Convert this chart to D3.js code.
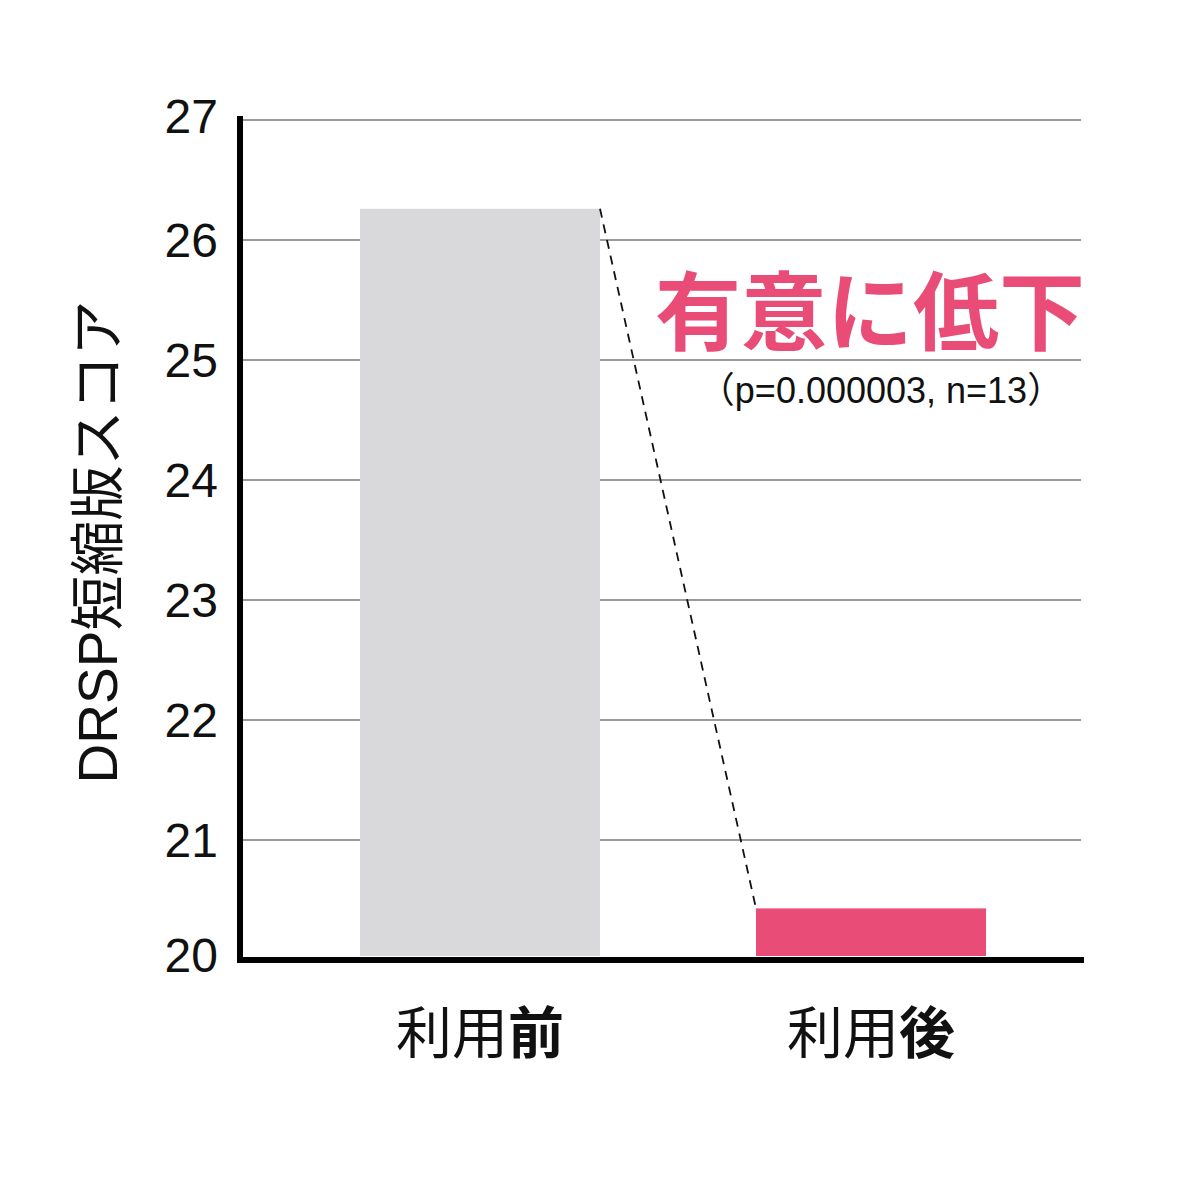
<!DOCTYPE html>
<html>
<head>
<meta charset="utf-8">
<script src="https://cdn.jsdelivr.net/npm/d3@7"></script>
<style>
  body { margin: 0; background: #fff; }
  text { font-family: "Liberation Sans", Arial, "Noto Sans CJK JP", sans-serif; }
  .jp { font-family: "Noto Sans CJK JP", sans-serif; }
</style>
</head>
<body>
<svg id="chart" width="1200" height="1200"></svg>
<script>
var categories = ["利用前", "利用後"];
var labelHead = ["利用", "利用"];
var labelTail = ["前", "後"];
var scores = [26.26, 20.43];
var barColors = ["#d9d8db", "#e94d77"];
var yTicks = [20, 21, 22, 23, 24, 25, 26, 27];
var yTitle = "DRSP短縮版スコア";
var noteMain = "有意に低下";
var noteSub = "（p=0.000003, n=13）";

var svg = d3.select("#chart");

var y = d3.scaleLinear()
  .domain([20, 27])
  .range([960, 120]);

var x = d3.scalePoint()
  .domain(categories)
  .range([480, 871]);

var barW = [240, 230];

// gridlines
svg.append("g")
  .selectAll("line")
  .data(yTicks)
  .enter().append("line")
    .attr("x1", 243)
    .attr("x2", 1081)
    .attr("y1", function(d) { return y(d); })
    .attr("y2", function(d) { return y(d); })
    .attr("stroke", "#9a9a9a")
    .attr("stroke-width", 2);

// bars
svg.append("g")
  .selectAll("rect")
  .data(scores)
  .enter().append("rect")
    .attr("x", function(d, i) { return x(categories[i]) - barW[i] / 2; })
    .attr("width", function(d, i) { return barW[i]; })
    .attr("y", function(d) { return y(d); })
    .attr("height", function(d) { return y(20) - 4 - y(d); })
    .attr("fill", function(d, i) { return barColors[i]; });

// dashed connector from top-right of first bar to top-left of second
svg.append("line")
  .attr("x1", x(categories[0]) + barW[0] / 2)
  .attr("y1", y(scores[0]))
  .attr("x2", x(categories[1]) - barW[1] / 2)
  .attr("y2", y(scores[1]))
  .attr("stroke", "#111")
  .attr("stroke-width", 1.8)
  .attr("stroke-dasharray", "9,7");

// axes
svg.append("line")
  .attr("x1", 240).attr("x2", 240)
  .attr("y1", 116).attr("y2", 963)
  .attr("stroke", "#000").attr("stroke-width", 6);
svg.append("line")
  .attr("x1", 237).attr("x2", 1084)
  .attr("y1", 960).attr("y2", 960)
  .attr("stroke", "#000").attr("stroke-width", 6);

// y tick labels
svg.append("g")
  .selectAll("text")
  .data(yTicks)
  .enter().append("text")
    .attr("x", 218)
    .attr("y", function(d) { return d === 20 ? y(d) - 5 : (d === 27 ? y(d) - 4 : y(d)); })
    .attr("dy", "0.36em")
    .attr("text-anchor", "end")
    .attr("font-size", 48)
    .attr("fill", "#111")
    .text(function(d) { return d; });

// y title
svg.append("text")
  .attr("transform", "translate(117,542) rotate(-90)")
  .attr("text-anchor", "middle")
  .attr("font-size", 55)
  .attr("fill", "#111")
  .text(yTitle);

// x labels
var xl = svg.append("g")
  .selectAll("text")
  .data(categories)
  .enter().append("text")
    .attr("class", "jp")
    .attr("x", function(d) { return x(d); })
    .attr("y", 1053)
    .attr("text-anchor", "middle")
    .attr("font-size", 56)
    .attr("fill", "#111");
xl.append("tspan").text(function(d, i) { return labelHead[i]; });
xl.append("tspan").attr("font-weight", "bold").text(function(d, i) { return labelTail[i]; });

// annotation
svg.append("text")
  .attr("class", "jp")
  .attr("x", 870)
  .attr("y", 344)
  .attr("text-anchor", "middle")
  .attr("font-size", 86)
  .attr("font-weight", "bold")
  .attr("fill", "#e94d77")
  .text(noteMain);

svg.append("text")
  .attr("x", 881)
  .attr("y", 403)
  .attr("text-anchor", "middle")
  .attr("font-size", 36)
  .attr("fill", "#111")
  .text(noteSub);
</script>
</body>
</html>
